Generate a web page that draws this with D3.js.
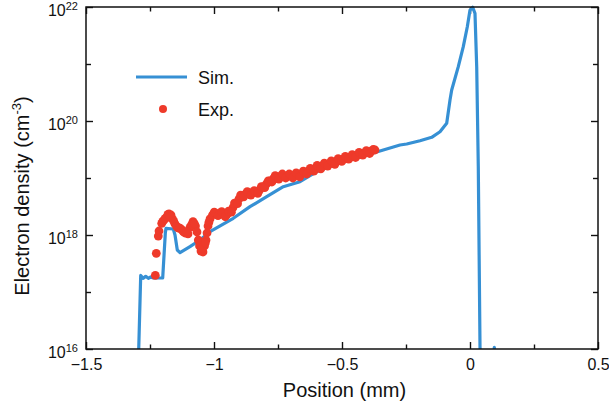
<!DOCTYPE html>
<html><head><meta charset="utf-8">
<script src="https://cdn.jsdelivr.net/npm/d3@7"></script>
<style>body{margin:0;background:#fff} text{font-family:"Liberation Sans",Arial,Helvetica,sans-serif;fill:#111}</style>
</head><body><svg id="c" width="609" height="406"></svg>
<script>
// Simulation: position (mm) and log10 of electron density (cm^-3)
const simX = [-1.297,-1.2863,-1.2762,-1.2668,-1.2566,-1.2473,-1.2371,-1.2004,-1.1902,-1.1875,-1.159,-1.1523,-1.1434,-1.1328,-1.0938,-1.0547,-1.0156,-0.9246,-0.8594,-0.7941,-0.7293,-0.6641,-0.5988,-0.534,-0.4688,-0.4035,-0.3387,-0.2734,-0.2473,-0.1953,-0.1496,-0.1172,-0.091,-0.0781,-0.0715,-0.0457,-0.0262,-0.0105,0.0,0.0105,0.0195,0.0262,0.0324,0.0391,0.043,0.09,0.095,0.1];
const simLog = [15.5,17.29,17.24,17.275,17.24,17.263,17.246,17.246,18.03,18.117,18.105,18.0,17.737,17.69,17.795,17.912,18.058,18.293,18.497,18.672,18.847,18.935,19.111,19.228,19.316,19.404,19.491,19.579,19.596,19.654,19.714,19.812,19.96,20.368,20.544,20.953,21.304,21.654,21.947,21.995,21.889,20.953,19.198,16.04,15.5,15.5,16.03,15.5];

// Experiment: position (mm) and log10 of electron density (cm^-3)
const expX = [-1.2293,-1.2254,-1.2176,-1.2148,-1.2043,-1.1953,-1.1855,-1.1758,-1.168,-1.1621,-1.1523,-1.1406,-1.1262,-1.1133,-1.1016,-1.0937,-1.082,-1.0723,-1.0664,-1.0613,-1.0566,-1.0508,-1.043,-1.0371,-1.0312,-1.0273,-1.0234,-1.0156,-1.0059,-0.9922,-0.9766,-0.9629,-0.9492,-0.9375,-0.9258,-0.9141,-0.9023,-0.8906,-0.877,-0.8633,-0.8496,-0.8359,-0.8223,-0.8086,-0.7949,-0.7812,-0.7676,-0.7539,-0.7402,-0.7266,-0.7129,-0.6992,-0.6855,-0.6719,-0.6582,-0.6445,-0.6309,-0.6172,-0.6035,-0.5898,-0.5762,-0.5625,-0.5488,-0.5352,-0.5215,-0.5078,-0.4941,-0.4805,-0.4668,-0.4531,-0.4395,-0.4258,-0.4121,-0.3984,-0.3848,-0.3711,
  -0.999,-0.9844,-0.970,-0.956,-0.943,-0.932,-0.920,-0.908,-0.896,-0.884,-0.870,-0.856,-0.843,-0.829,-0.815,-0.802,-0.788,-0.774,-0.761,-0.747,-0.733,-0.720,-0.706,-0.692,-0.679,-0.665,-0.651,-0.638,-0.624,-0.610,-0.597,-0.583,-0.569,-0.556,-0.542,-0.528,-0.515,-0.501,-0.487,-0.474,-0.460,-0.447,-0.433,-0.419,-0.405,-0.392,-0.378,
  -1.200,-1.190,-1.180,-1.172,-1.157,-1.146,-1.133,-1.120,-1.107,-1.088,-1.077,-1.047,-1.034,-1.020];
const expLog = [17.293,17.679,17.982,18.07,18.205,18.263,18.307,18.368,18.351,18.281,18.193,18.123,18.096,18.035,18.018,18.132,18.233,18.158,18.053,17.912,17.807,17.719,17.702,17.807,17.912,18.035,18.158,18.281,18.351,18.377,18.377,18.36,18.36,18.404,18.482,18.561,18.632,18.684,18.719,18.737,18.737,18.754,18.789,18.842,18.895,18.947,18.991,19.018,19.026,19.035,19.035,19.035,19.044,19.053,19.07,19.096,19.123,19.149,19.175,19.193,19.211,19.237,19.254,19.272,19.289,19.316,19.333,19.351,19.368,19.386,19.404,19.421,19.439,19.456,19.474,19.491,
  18.40,18.34,18.41,18.32,18.42,18.40,18.56,18.55,18.70,18.67,18.76,18.70,18.78,18.73,18.85,18.83,18.95,18.93,19.04,18.98,19.07,19.00,19.07,19.00,19.09,19.02,19.12,19.07,19.17,19.12,19.22,19.16,19.26,19.21,19.30,19.24,19.34,19.29,19.38,19.33,19.41,19.36,19.45,19.40,19.48,19.43,19.50,
  18.24,18.29,18.36,18.32,18.24,18.15,18.12,18.06,18.06,18.18,18.20,17.76,17.86,18.22];

const xTicks = [-1.5,-1,-0.5,0,0.5];
const xTickLabels = ["\u22121.5","\u22121","\u22120.5","0","0.5"];
const xMinorTicks = [-1.25,-0.75,-0.25,0.25];
const yTickExps = [16,18,20,22];
const yMinorExps = [17,19,21];
const seriesNames = ["Sim.","Exp."];
const xTitle = "Position (mm)";

const BLUE = "#3690d4", RED = "#ee3a2a";
const svg = d3.select("#c");
const L=86, R=598, T=7, B=349;
const x = d3.scaleLinear().domain([-1.5,0.5]).range([L,R]);
const y = d3.scaleLog().domain([1e16,1e22]).range([B,T]);

svg.append("defs").append("clipPath").attr("id","clip")
  .append("rect").attr("x",L).attr("y",T-3).attr("width",R-L).attr("height",B-T+3);

function styleAxis(g){ g.select(".domain").remove(); g.selectAll(".tick line").attr("stroke","#111").attr("stroke-width",1.4); }
svg.append("g").attr("transform",`translate(0,${B})`)
  .call(d3.axisBottom(x).tickValues(xTicks).tickSize(-7).tickPadding(10).tickFormat((d,i)=>xTickLabels[i]))
  .call(styleAxis).call(g=>g.selectAll("text").attr("font-size",16).attr("fill","#111").style("font-family","'Liberation Sans',Arial,sans-serif"));
svg.append("g").attr("transform",`translate(0,${B})`)
  .call(d3.axisBottom(x).tickValues(xMinorTicks).tickSize(-4.5).tickFormat("")).call(styleAxis);
svg.append("g").attr("transform",`translate(0,${T})`)
  .call(d3.axisTop(x).tickValues(xTicks).tickSize(-7).tickFormat("")).call(styleAxis);
svg.append("g").attr("transform",`translate(0,${T})`)
  .call(d3.axisTop(x).tickValues(xMinorTicks).tickSize(-4.5).tickFormat("")).call(styleAxis);
svg.append("g").attr("transform",`translate(${L},0)`)
  .call(d3.axisLeft(y).tickValues(yTickExps.map(e=>Math.pow(10,e))).tickSize(-7).tickFormat("")).call(styleAxis);
svg.append("g").attr("transform",`translate(${L},0)`)
  .call(d3.axisLeft(y).tickValues(yMinorExps.map(e=>Math.pow(10,e))).tickSize(-5).tickFormat("")).call(styleAxis);
svg.append("g").attr("transform",`translate(${R},0)`)
  .call(d3.axisRight(y).tickValues(yTickExps.map(e=>Math.pow(10,e))).tickSize(-7).tickFormat("")).call(styleAxis);
svg.append("g").attr("transform",`translate(${R},0)`)
  .call(d3.axisRight(y).tickValues(yMinorExps.map(e=>Math.pow(10,e))).tickSize(-5).tickFormat("")).call(styleAxis);

yTickExps.forEach(e=>{
  const t = svg.append("text").attr("x",78).attr("y",y(Math.pow(10,e))+8.5)
    .attr("text-anchor","end").attr("font-size",16);
  t.append("tspan").text("10");
  t.append("tspan").attr("dy",-5.5).attr("font-size",11).text(String(e));
});

const data = d3.zip(simX, simLog);
const line = d3.line().x(d=>x(d[0])).y(d=>y(Math.pow(10,d[1])));
const plot = svg.append("g").attr("clip-path","url(#clip)");
plot.append("path").datum(data).attr("d",line).attr("fill","none")
  .attr("stroke",BLUE).attr("stroke-width",3.2).attr("stroke-linejoin","round");
plot.selectAll("circle").data(d3.zip(expX,expLog)).join("circle")
  .attr("cx",d=>x(d[0])).attr("cy",d=>y(Math.pow(10,d[1]))).attr("r",4.4).attr("fill",RED);

svg.append("rect").attr("x",L).attr("y",T).attr("width",R-L).attr("height",B-T)
  .attr("fill","none").attr("stroke","#111").attr("stroke-width",1.5);

svg.append("line").attr("x1",136).attr("x2",187).attr("y1",77).attr("y2",77)
  .attr("stroke",BLUE).attr("stroke-width",3.2);
svg.append("text").attr("x",198).attr("y",83.5).attr("font-size",18).text(seriesNames[0]);
svg.append("circle").attr("cx",163).attr("cy",109).attr("r",4).attr("fill",RED);
svg.append("text").attr("x",198).attr("y",115.5).attr("font-size",18).text(seriesNames[1]);

svg.append("text").attr("x",344.5).attr("y",397).attr("text-anchor","middle").attr("font-size",20).text(xTitle);
const yl = svg.append("text").attr("transform","translate(29,196) rotate(-90)").attr("text-anchor","middle").attr("font-size",20);
yl.append("tspan").text("Electron density (cm");
yl.append("tspan").attr("dy",-8).attr("font-size",13).text("-3");
yl.append("tspan").attr("dy",8).text(")");
</script></body></html>
